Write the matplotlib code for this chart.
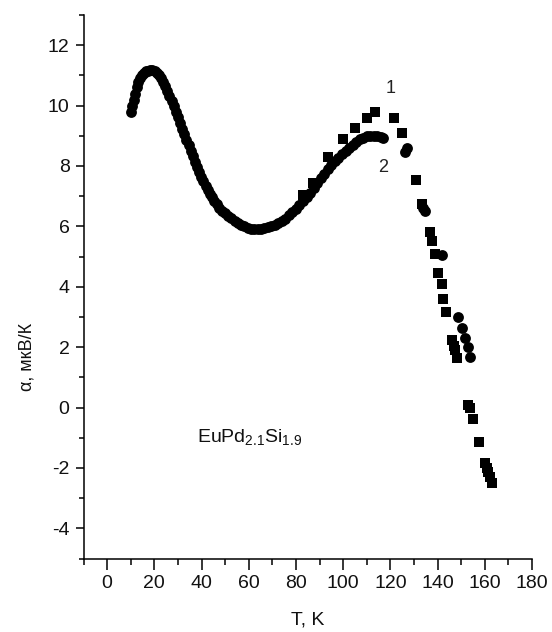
import matplotlib
matplotlib.use("Agg")
import matplotlib.pyplot as plt
from matplotlib.ticker import MultipleLocator

plt.rcParams['font.family'] = ['Liberation Sans', 'DejaVu Sans']
plt.rcParams['mathtext.fontset'] = 'custom'
plt.rcParams['mathtext.rm'] = 'Liberation Sans'
plt.rcParams['mathtext.default'] = 'regular'
plt.rcParams['axes.unicode_minus'] = False

# Series 2 (circles)
t2 = [10.0, 10.6, 11.2, 11.8, 12.5, 13.2, 14.0, 14.8, 15.6, 16.5, 17.4, 18.3, 19.2, 20.1,
      21.0, 21.9, 22.8, 23.7, 24.6, 25.5, 26.4, 27.3, 28.2, 29.1, 30.0, 30.9, 31.8, 32.7,
      33.6, 34.5, 35.4, 36.3, 37.2, 38.1, 39.0, 39.9, 40.8, 41.7, 42.6, 43.5, 44.4, 45.4,
      46.5, 47.6, 48.8, 50.0, 51.3, 52.6, 54.0, 55.4, 56.8, 58.2, 59.6, 61.0, 62.4, 63.8,
      65.2, 66.6, 68.0, 69.5, 71.0, 72.5, 74.0, 75.5, 77.0, 78.5, 80.0, 81.5, 83.0, 84.5,
      86.0, 87.5, 89.0, 90.5, 92.0, 93.5, 95.0, 96.5, 98.0, 99.5, 101.0, 102.5, 104.0,
      105.5, 107.0, 108.5, 110.0, 111.5, 113.0, 114.5, 116.0, 117.0,
      126.2, 127.2, 133.8, 134.6, 141.9, 148.7, 150.4, 151.7, 153.0, 153.8]
a2 = [9.80, 10.00, 10.20, 10.40, 10.60, 10.78, 10.92, 11.02, 11.08, 11.13, 11.16, 11.18, 11.17, 11.14,
      11.08, 11.00, 10.90, 10.78, 10.64, 10.48, 10.32, 10.15, 9.98, 9.80, 9.62, 9.43, 9.24, 9.05,
      8.86, 8.68, 8.50, 8.32, 8.14, 7.97, 7.80, 7.64, 7.49, 7.35, 7.21, 7.08, 6.96, 6.84,
      6.73, 6.62, 6.52, 6.43, 6.35, 6.27, 6.19, 6.12, 6.06, 6.00, 5.95, 5.92, 5.90, 5.90,
      5.92, 5.95, 5.98, 6.02, 6.06, 6.12, 6.18, 6.26, 6.36, 6.46, 6.58, 6.70, 6.84, 6.98,
      7.12, 7.28, 7.44, 7.60, 7.75, 7.90, 8.03, 8.16, 8.28, 8.40, 8.51, 8.61, 8.71,
      8.80, 8.88, 8.94, 8.98, 9.00, 9.00, 8.98, 8.95, 8.93,
      8.45, 8.60, 6.60, 6.50, 5.05, 3.00, 2.65, 2.30, 2.00, 1.67]

# Series 1 (squares)
t1 = [83.0, 87.3, 93.6, 100.0, 105.0, 110.0, 113.5, 121.6, 125.0, 130.9, 133.4, 136.8,
      137.7, 139.0, 140.2, 141.9, 142.3, 143.6, 146.2, 147.0, 147.5, 148.3, 153.0, 153.8,
      155.0, 157.6, 160.1, 160.8, 161.4, 162.2, 163.0]
a1 = [7.05, 7.45, 8.30, 8.90, 9.25, 9.60, 9.78, 9.60, 9.10, 7.55, 6.75, 5.80,
      5.50, 5.10, 4.45, 4.10, 3.60, 3.15, 2.25, 2.05, 1.90, 1.65, 0.08, -0.02,
      -0.38, -1.15, -1.85, -2.00, -2.15, -2.30, -2.50]

x_ticks = [0, 20, 40, 60, 80, 100, 120, 140, 160, 180]
y_ticks = [-4, -2, 0, 2, 4, 6, 8, 10, 12]

fig = plt.figure(figsize=(5.52, 6.32), dpi=100)
ax = fig.add_axes([83.5 / 552, 1 - 558.5 / 632, (532 - 83.5) / 552, (558.5 - 15) / 632])

ax.plot(t2, a2, linestyle='none', marker='o', markersize=7.8, color='black', markeredgewidth=0)
ax.plot(t1, a1, linestyle='none', marker='s', markersize=7.0, color='black', markeredgewidth=0)

ax.set_xlim(-10, 180)
ax.set_ylim(-5, 13)
ax.set_xticks(x_ticks)
ax.set_yticks(y_ticks)
ax.xaxis.set_minor_locator(MultipleLocator(10))
ax.yaxis.set_minor_locator(MultipleLocator(1))

for s in ['top', 'right']:
    ax.spines[s].set_visible(False)
for s in ['left', 'bottom']:
    ax.spines[s].set_linewidth(1.1)

ax.tick_params(axis='x', which='major', length=8, width=1.1, pad=4, labelsize=14, colors='black')
ax.tick_params(axis='x', which='minor', length=4.5, width=1.1)
ax.tick_params(axis='y', which='major', length=6, width=1.1, pad=4, labelsize=14)
ax.tick_params(axis='y', which='minor', length=3.5, width=1.1)
for lab in ax.get_xticklabels() + ax.get_yticklabels():
    lab.set_color('#111111')

ax.set_xlabel('T, K', fontsize=14, labelpad=14, color='#111111')
fig.text(27 / 552, 1 - 357 / 632, 'α, мкВ/К', rotation=90, fontsize=13,
         ha='center', va='center', color='#111111')

ax.text(38.0, -1.15, r'EuPd$_{2.1}$Si$_{1.9}$', fontsize=14, ha='left', va='baseline', color='#111111')
ax.text(120.0, 10.58, '1', fontsize=13, ha='center', va='center', color='#222222')
ax.text(117.0, 7.96, '2', fontsize=13, ha='center', va='center', color='#222222')

fig.savefig('out.png', dpi=100)
